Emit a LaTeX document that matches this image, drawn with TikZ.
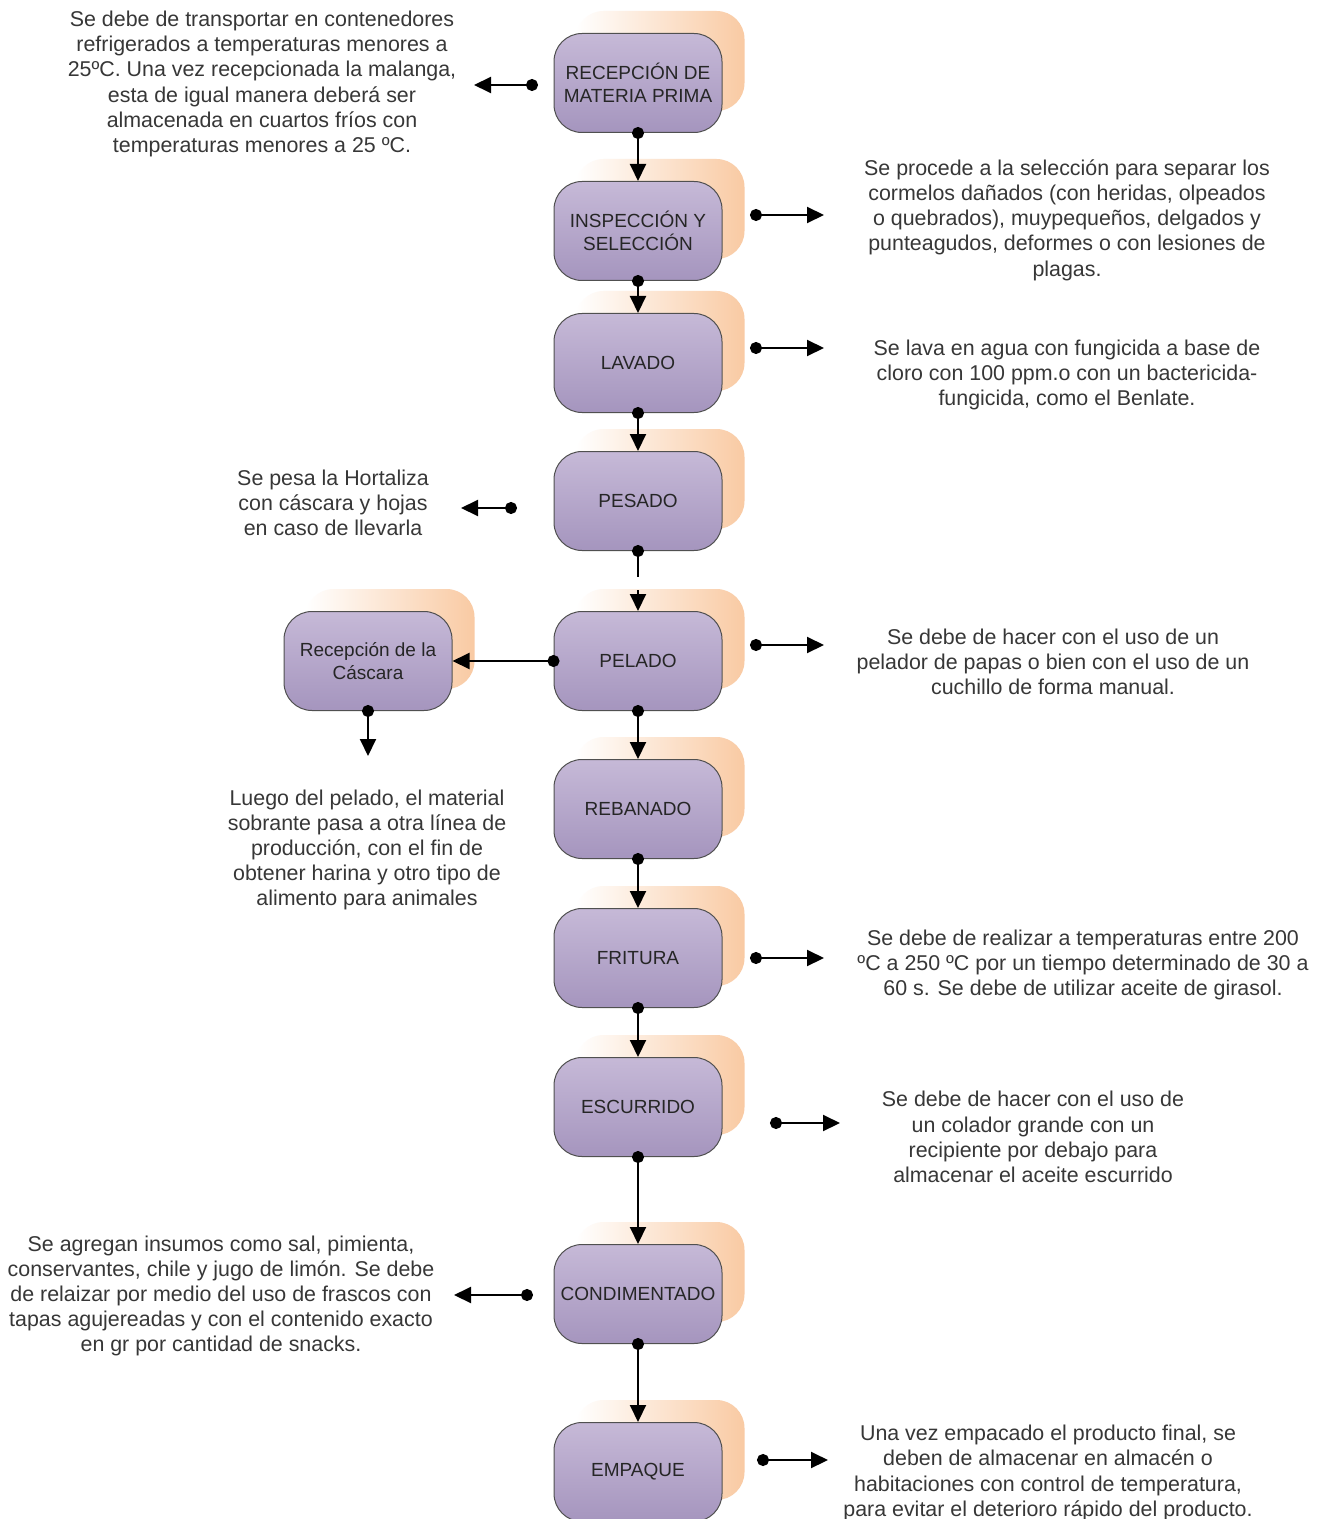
\documentclass[tikz,border=0pt]{standalone}
\usepackage{fontspec}
\setmainfont{Liberation Sans}
\usepackage{xcolor}
\usepackage{tikz}
\usetikzlibrary{arrows.meta,backgrounds}
\definecolor{lilaA}{RGB}{198,185,215}
\definecolor{lilaB}{RGB}{165,149,190}
\definecolor{borde}{RGB}{80,80,80}
\definecolor{durazno}{RGB}{249,202,163}
\definecolor{texto}{RGB}{55,55,55}
\tikzset{
  etapa/.style={rectangle, rounded corners=14pt, minimum width=84pt, minimum height=49.5pt,
    top color=lilaA, bottom color=lilaB, draw=borde, line width=0.5pt, align=center,
    text=black!85, font=\fontsize{9.5}{11.5}\selectfont, inner sep=0pt},
  sombra/.style={rounded corners=14pt, left color=white, right color=durazno},
  nota/.style={align=center, text=texto, font=\fontsize{10.7}{12.6}\selectfont, inner sep=0pt},
  flecha/.style={{Circle[length=6pt]}-{Triangle[width=8pt,length=8.5pt]}, line width=1pt, black}
}
\begin{document}
\begin{tikzpicture}[x=0.5pt, y=-0.5pt]
  \useasboundingbox (0,0) rectangle (1328,1519);
  \node[etapa] (rec) at (638,83) {RECEPCIÓN DE\\MATERIA PRIMA};
  \node[etapa] (ins) at (638,231) {INSPECCIÓN Y\\SELECCIÓN};
  \node[etapa] (lav) at (638,363) {LAVADO};
  \node[etapa] (pes) at (638,501) {PESADO};
  \node[etapa] (pel) at (638,661) {PELADO};
  \node[etapa] (reb) at (638,809) {REBANADO};
  \node[etapa] (fri) at (638,958) {FRITURA};
  \node[etapa] (esc) at (638,1107) {ESCURRIDO};
  \node[etapa] (con) at (638,1294) {CONDIMENTADO};
  \node[etapa] (emp) at (638,1472) {EMPAQUE};
  \node[etapa] (cas) at (368,661) {Recepción de la\\Cáscara};
  \begin{scope}[on background layer]
    \fill[white] (0,0) rectangle (1328,1519);
    \foreach \n in {rec,ins,lav,pes,pel,reb,fri,esc,con,emp,cas}
      \shade[sombra] ([xshift=11pt,yshift=11pt]\n.south west) rectangle ([xshift=11pt,yshift=11pt]\n.north east);
  \end{scope}
  \node[nota] (nrec) at (262,84) {Se debe de transportar en contenedores\\refrigerados a temperaturas menores a\\25ºC. Una vez recepcionada la malanga,\\esta de igual manera deberá ser\\almacenada en cuartos fríos con\\temperaturas menores a 25 ºC.};
  \node[nota] (nins) at (1067,220) {Se procede a la selección para separar los\\cormelos dañados (con heridas, olpeados\\o quebrados), muypequeños, delgados y\\punteagudos, deformes o con lesiones de\\plagas.};
  \node[nota] (nlav) at (1067,375) {Se lava en agua con fungicida a base de\\cloro con 100 ppm.o con un bactericida-\\fungicida, como el Benlate.};
  \node[nota] (npes) at (333,503) {Se pesa la Hortaliza\\con cáscara y hojas\\en caso de llevarla};
  \node[nota] (npel) at (1053,662) {Se debe de hacer con el uso de un\\pelador de papas o bien con el uso de un\\cuchillo de forma manual.};
  \node[nota] (ncas) at (367,850) {Luego del pelado, el material\\sobrante pasa a otra línea de\\producción, con el fin de\\obtener harina y otro tipo de\\alimento para animales};
  \node[nota] (nfri) at (1083,965) {Se debe de realizar a temperaturas entre 200\\ºC a 250 ºC por un tiempo determinado de 30 a\\60 s. Se debe de utilizar aceite de girasol.};
  \node[nota] (nesc) at (1033,1137) {Se debe de hacer con el uso de\\un colador grande con un\\recipiente por debajo para\\almacenar el aceite escurrido};
  \node[nota] (ncon) at (221,1296) {Se agregan insumos como sal, pimienta,\\conservantes, chile y jugo de limón. Se debe\\de relaizar por medio del uso de frascos con\\tapas agujereadas y con el contenido exacto\\en gr por cantidad de snacks.};
  \node[nota] (nemp) at (1048,1473) {Una vez empacado el producto final, se\\deben de almacenar en almacén o\\habitaciones con control de temperatura,\\para evitar el deterioro rápido del producto.};
  \coordinate (a1) at (538,85);   \coordinate (b1) at (474,85);
  \coordinate (a2) at (750,215);  \coordinate (b2) at (824,215);
  \coordinate (a3) at (750,348);  \coordinate (b3) at (824,348);
  \coordinate (a4) at (517,508);  \coordinate (b4) at (461,508);
  \coordinate (a5) at (750,645);  \coordinate (b5) at (824,645);
  \coordinate (a7) at (750,958);  \coordinate (b7) at (824,958);
  \coordinate (a8) at (770,1123); \coordinate (b8) at (840,1123);
  \coordinate (a9) at (533,1295); \coordinate (b9) at (454,1295);
  \coordinate (a10) at (757,1460); \coordinate (b10) at (828,1460);
  \draw[flecha] ([yshift=3pt]rec.south) -- (ins.north);
  \draw[flecha] ([yshift=3pt]ins.south) -- (lav.north);
  \draw[flecha] ([yshift=3pt]lav.south) -- (pes.north);
  \draw[flecha, dash pattern=on 10.5pt off 6.5pt on 30pt] ([yshift=3pt]pes.south) -- (pel.north);
  \draw[flecha] ([yshift=3pt]pel.south) -- (reb.north);
  \draw[flecha] ([yshift=3pt]reb.south) -- (fri.north);
  \draw[flecha] ([yshift=3pt]fri.south) -- (esc.north);
  \draw[flecha] ([yshift=3pt]esc.south) -- (con.north);
  \draw[flecha] ([yshift=3pt]con.south) -- (emp.north);
  \draw[flecha] ([xshift=3pt]pel.west) -- (cas.east);
  \draw[flecha] ([yshift=3pt]cas.south) -- ++(0,51);
  \foreach \i in {1,2,3,4,5,7,8,9,10}
    \draw[flecha] (a\i) -- (b\i);
\end{tikzpicture}
\end{document}
